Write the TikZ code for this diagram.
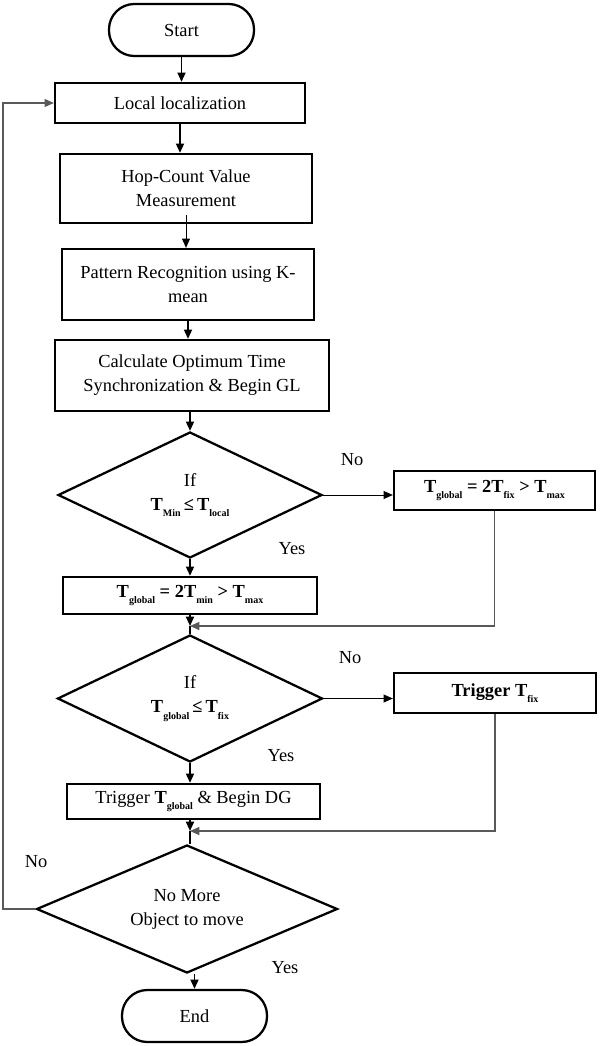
\documentclass[tikz,border=0pt]{standalone}
\usepackage{fontspec}
\setmainfont{Liberation Serif}
\usetikzlibrary{shapes.geometric,arrows.meta}
\newcommand{\sbx}[1]{\raisebox{-0.75ex}{\fontsize{7.5}{7.5}\selectfont\bfseries #1}}
\begin{document}
\begin{tikzpicture}[x=0.75pt,y=-0.75pt,
  font=\fontsize{13.8}{18}\selectfont,
  proc/.style={draw,line width=1.7pt,rectangle,inner sep=0pt,align=center},
  term/.style={draw,line width=1.7pt,rectangle,rounded corners=19pt,inner sep=0pt},
  dec/.style={draw,line width=1.7pt,diamond,shape aspect=2,inner sep=0pt,align=center},
  tip/.style={-{Triangle[length=7pt,width=6pt]}},
  arr/.style={line width=1.3pt,tip},
  thinarr/.style={line width=0.7pt,tip},
  plain/.style={line width=1.3pt},
  grayarr/.style={line width=0.8pt,draw=black!65,tip},
  lab/.style={inner sep=0pt}]
\useasboundingbox (0,0) rectangle (600,1046);

\node[term,minimum width=108.75pt,minimum height=39pt] (start) at (181.5,30) {Start};
\node[proc,minimum width=187.5pt,minimum height=30pt] (loc) at (180,103) {Local localization};
\node[proc,minimum width=189pt,minimum height=51.75pt] (hop) at (186,188.5) {Hop-Count Value\\Measurement};
\node[proc,minimum width=189pt,minimum height=53.25pt] (pat) at (188,284.5) {Pattern Recognition using K-\\mean};
\node[proc,minimum width=205.5pt,minimum height=53.25pt] (calc) at (192,375.5) {Calculate Optimum Time\\Synchronization \& Begin GL};
\node[dec,minimum width=198pt,minimum height=94.5pt] (d1) at (190,495) {If\\\textbf{T\sbx{Min}\,≤\,T\sbx{local}}};
\node[proc,minimum width=150.75pt,minimum height=29.25pt] (rb1) at (494.5,490.5) {\textbf{T\sbx{global} = 2T\sbx{fix} > T\sbx{max}}};
\node[proc,minimum width=190.5pt,minimum height=27.75pt] (b2) at (190,595.5) {\textbf{T\sbx{global} = 2T\sbx{min} > T\sbx{max}}};
\node[dec,minimum width=198.75pt,minimum height=95.25pt] (d2) at (190,698.5) {If\\\textbf{T\sbx{global}\,≤\,T\sbx{fix}}};
\node[proc,minimum width=151.5pt,minimum height=30pt] (tf) at (495,693) {\textbf{Trigger T\sbx{fix}}};
\node[proc,minimum width=189.75pt,minimum height=26.25pt] (tg) at (193.5,801.5) {Trigger \textbf{T\sbx{global}} \& Begin DG};
\node[dec,minimum width=225.75pt,minimum height=96pt] (d3) at (187,909) {No More\\Object to move};
\node[term,minimum width=108.75pt,minimum height=39pt] (end) at (194.5,1016) {End};

\node[lab] (no1) at (352,460) {No};
\node[lab] (yes1) at (292,549) {Yes};
\node[lab] (no2) at (350,658) {No};
\node[lab] (yes2) at (281,756) {Yes};
\node[lab] (no3) at (36,862) {No};
\node[lab] (yes3) at (285,968) {Yes};

\coordinate (j1) at (190,626);
\coordinate (j2) at (190,831);
\coordinate (lp) at (3,909);

\draw[arr] (start.south) -- (start.south |- loc.north);
\draw[arr] (loc.south) -- (loc.south |- hop.north);
\draw[thinarr] ([yshift=7pt]hop.south) -- (hop.south |- pat.north);
\draw[arr] (pat.south) -- (pat.south |- calc.north);
\draw[arr] (d1.north |- calc.south) -- (d1.north);
\draw[arr] (d1.south) -- (b2.north);
\draw[thinarr] (d1.east) -- (d1.east -| rb1.west);
\draw[arr] (b2.south) -- (j1);
\draw[plain] (j1) -- (d2.north);
\draw[grayarr] (rb1.south) |- (j1);
\draw[arr] (d2.south) -- (d2.south |- tg.north);
\draw[thinarr] (d2.east) -- (d2.east -| tf.west);
\draw[arr] (j2 |- tg.south) -- (j2);
\draw[plain] (j2) -- (j2 |- d3.north);
\draw[grayarr] (tf.south) |- (j2);
\draw[arr] (end.north |- d3.south) -- (end.north);
\draw[grayarr] (d3.west) -- (lp) |- (loc.west);
\end{tikzpicture}
\end{document}
